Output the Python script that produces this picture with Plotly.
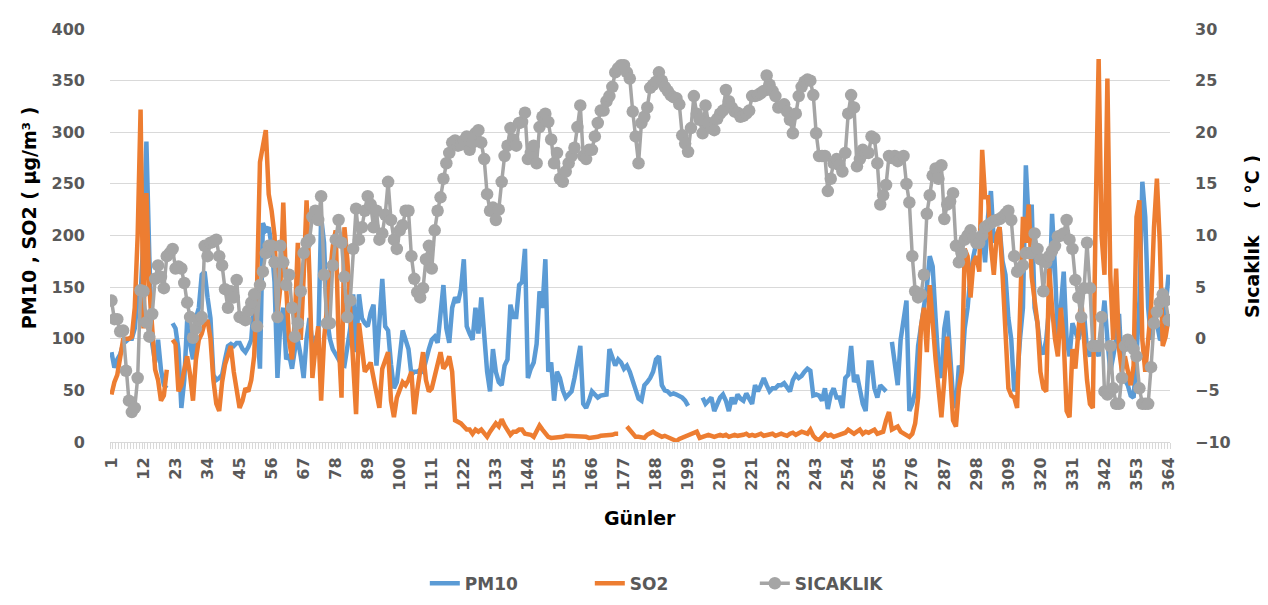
import plotly.graph_objects as go

# ---------------- data ----------------
days = list(range(1, 365))

tick_days = [1, 12, 23, 34, 45, 56, 67, 78, 89, 100, 111, 122, 133, 144, 155, 166,
             177, 188, 199, 210, 221, 232, 243, 254, 265, 276, 287, 298, 309, 320,
             331, 342, 353, 364]

pm10 = [
    87, 72, 80, 85, 95, 98, 100, 100, 110, 140,
    140, 200, 291, 180, 95, 77, 99, 70, 55, 52,
    None, 115, 110, 90, 33, 60, 118, 95, 80, 120,
    130, 162, 165, 140, 120, 65, 60, 62, 65, 80,
    93, 95, 93, 96, 96, 90, 87, 92, 99, 137,
    110, 71, 212, 205, 208, 190, 155, 62, 115, 130,
    80, 85, 71, 90, 99, 83, 62, 100, 120, 95,
    100, 96, 218, 193, 120, 100, 90, 85, 80, 75,
    74, 95, 110, 143, 87, 143, 120, 115, 112, 125,
    133, 74, 120, 158, 112, 108, 75, 52, 58, 80,
    108, 99, 90, 65, 68, 68, 70, 68, 80, 90,
    99, 102, 96, 120, 152, 110, 96, 130, 140, 135,
    148, 177, 112, 105, 99, 130, 105, 140, 100, 68,
    49, 90, 68, 58, 55, 74, 80, 133, 121, 121,
    152, 155, 187, 62, 71, 77, 95, 146, 130, 177,
    68, 77, 40, 68, 62, 50, 43, 46, 49, 62,
    75, 93, 37, 33, 40, 49, 46, 43, 45, 46,
    46, 90, 80, 74, 80, 77, 71, 74, 68, 58,
    50, 42, 40, 55, 58, 62, 68, 80, 83, 55,
    50, 49, 46, 47, 46, 45, 43, 40, 35, None,
    None, None, None, 43, 37, 40, 43, 30, 38, 43,
    46, 40, 30, 43, 37, 46, 42, 40, 47, 42,
    37, 55, 49, 55, 62, 55, 49, 52, 52, 55,
    55, 57, 52, 49, 60, 65, 62, 64, 68, 71,
    69, 45, 46, 45, 40, 52, 32, 46, 52, 43,
    43, 33, 62, 65, 93, 58, 65, 50, 37, 30,
    77, 77, 52, 43, 55, 52, 49, None, 97, 75,
    55, 99, 120, 137, 30, 37, 49, 93, 112, 130,
    150, 180, 170, 120, 75, 62, 110, 127, 87, 43,
    33, 74, 68, 110, 130, 162, 180, 193, 200, 205,
    174, 218, 243, 193, 200, 208, 175, 162, 120, 99,
    49, 60, 100, 130, 268, 212, 230, 130, 115, 90,
    85, 99, 130, 221, 168, 99, 130, 165, 99, 83,
    115, 105, 99, 110, 124, 90, 83, 99, 90, 83,
    110, 137, 99, 68, 83, 100, 124, 68, 60, 55,
    45, 43, 83, 137, 252, 218, 130, 99, 130, 112,
    100, 99, 130, 162,
]

so2 = [
    46, 58, 65, 80, 99, 100, 100, 102, 130, 200,
    322, 110, 241, 150, 110, 70, 60, 40, 45, 70,
    None, 99, 95, 49, 55, 70, 83, 65, 40, 80,
    99, 105, 115, 118, 100, 60, 37, 30, 58, 75,
    85, 93, 68, 50, 33, 40, 52, 49, 60, 83,
    150, 271, 285, 302, 240, 224, 200, 124, 150, 232,
    150, 99, 80, 120, 193, 99, 160, 234, 162, 62,
    90, 112, 40, 99, 130, 162, 190, 205, 100, 43,
    208, 177, 130, 80, 27, 115, 90, 68, 72, 77,
    62, 45, 33, 71, 80, 87, 40, 24, 43, 50,
    58, 55, 60, 68, 27, 50, 68, 87, 60, 49,
    52, 65, 74, 87, 71, 75, 83, 68, 21, 20,
    18, 15, 12, 12, 8, 12, 10, 12, 8, 5,
    10, 15, 18, 15, 22, 16, 12, 7, 10, 10,
    12, 12, 8, 8, 7, 5, 10, 16, 12, 8,
    5, 4, 4, 5, 5, 5, 6, 6, 6, 5,
    5, 5, 5, 5, 4, 4, 5, 5, 6, 6,
    6, 7, 7, 8, 8, None, None, 15, 12, 8,
    5, 5, 4, 4, 7, 8, 10, 8, 6, 5,
    6, 5, 4, 2, 1, 3, 4, 5, 6, 7,
    8, 10, 4, 5, 6, 7, 6, 5, 6, 7,
    6, 7, 5, 6, 7, 6, 6, 7, 8, 6,
    7, 6, 7, 8, 6, 7, 7, 8, 6, 7,
    8, 7, 6, 8, 9, 7, 8, 10, 9, 8,
    12, 6, 3, 2, 5, 8, 6, 7, 5, 6,
    7, 8, 9, 12, 10, 8, 10, 12, 8, 10,
    9, 10, 12, 8, 9, 10, 21, 29, 12, 14,
    15, 10, 8, 6, 5, 8, 18, 43, 112, 130,
    87, 152, 112, 80, 52, 24, 60, 102, 68, 21,
    15, 52, 68, 187, 180, 140, 174, 180, 165, 283,
    237, 237, 190, 162, 200, 208, 162, 99, 52, 45,
    43, 33, 115, 218, 193, 230, 160, 137, 115, 68,
    52, 49, 168, 130, 100, 83, 130, 99, 30, 24,
    90, 71, 100, 140, 99, 60, 37, 33, 224, 371,
    200, 162, 352, 162, 99, 168, 90, 68, 83, 68,
    55, 74, 218, 234, 99, 68, 100, 130, 208, 255,
    193, 93, 102, 120,
]

sicaklik = [
    3.7, 1.9, 1.9, 0.7, 0.8, -3.1, -6.0, -7.1, -6.7, -3.8,
    4.7, 4.6, 1.6, 0.2, 2.4, 5.8, 7.1, 6.0, 4.9, 8.0,
    8.3, 8.7, 6.8, 7.0, 6.8, 5.4, 3.5, 2.1, 0.1, 1.0,
    1.8, 2.1, 9.0, 8.0, 9.3, 9.4, 9.6, 8.0, 7.1, 4.8,
    3.0, 4.6, 4.0, 5.7, 2.1, 2.0, 1.8, 2.7, 3.5, 4.3,
    1.2, 5.2, 6.5, 8.3, 9.0, 9.0, 7.4, 2.1, 9.0, 7.4,
    5.2, 6.2, 3.0, 0.2, 1.5, 4.6, 8.3, 9.3, 9.6, 11.8,
    12.4, 11.5, 13.8, 6.2, 1.5, 1.5, 7.1, 9.6, 11.5, 9.3,
    6.0, 2.1, 3.7, 8.7, 12.6, 9.6, 10.8, 12.4, 13.8, 13.0,
    10.8, 12.4, 9.6, 10.2, 12.0, 15.2, 11.5, 9.6, 8.7, 10.5,
    11.0, 12.4, 12.4, 8.0, 5.8, 4.5, 4.0, 4.9, 7.7, 9.0,
    6.8, 10.5, 12.4, 13.7, 15.5, 17.0, 18.0, 19.0, 19.2, 18.7,
    18.8, 19.2, 19.6, 18.3, 19.0, 19.9, 20.2, 19.0, 17.4, 14.0,
    12.4, 12.7, 11.5, 12.5, 15.2, 17.7, 18.7, 20.4, 19.3, 18.7,
    20.9, 21.0, 21.9, 17.4, 18.0, 18.7, 17.0, 20.5, 21.5, 21.8,
    21.0, 19.3, 17.0, 18.0, 15.5, 15.2, 16.2, 17.0, 17.7, 18.5,
    20.5, 22.6, 17.7, 17.4, 18.3, 18.3, 19.6, 20.9, 22.1, 22.1,
    23.0, 23.5, 24.4, 25.8, 26.2, 26.5, 26.5, 25.8, 25.2, 22.0,
    19.6, 17.0, 20.9, 21.5, 22.4, 24.3, 24.6, 24.9, 25.8, 25.0,
    24.4, 24.0, 23.6, 23.4, 23.3, 22.7, 19.7, 18.9, 18.1, 20.4,
    23.5, 21.8, 21.2, 19.9, 22.6, 20.9, 20.4, 20.2, 21.3, 21.8,
    22.1, 24.1, 23.0, 22.4, 22.0, 21.9, 21.5, 21.6, 21.8, 22.1,
    23.5, 23.5, 23.6, 23.8, 24.0, 25.5, 24.6, 24.0, 23.5, 22.4,
    22.5, 22.7, 22.0, 21.2, 19.9, 21.8, 23.5, 24.4, 24.9, 25.1,
    25.0, 23.6, 19.9, 17.7, 17.7, 17.7, 14.3, 15.5, 17.0, 17.4,
    16.8, 16.2, 18.0, 21.8, 23.6, 22.4, 16.7, 17.4, 18.3, 18.0,
    18.0, 19.6, 19.4, 17.0, 13.0, 13.9, 14.9, 17.7, 17.5, 17.7,
    17.2, 17.5, 17.7, 15.0, 13.2, 8.0, 4.6, 4.0, 4.3, 6.2,
    12.1, 13.9, 15.8, 16.5, 15.5, 16.8, 11.6, 13.0, 13.3, 14.1,
    9.0, 7.4, 8.3, 9.6, 10.0, 10.5, 9.8, 9.3, 9.3, 10.0,
    10.8, 11.0, 11.2, 11.4, 11.5, 11.6, 11.8, 12.1, 12.4, 11.5,
    8.0, 6.5, 6.8, 7.1, 8.3, 8.3, 8.3, 10.2, 8.7, 7.7,
    4.6, 7.4, 8.0, 8.5, 9.0, 9.9, 10.0, 10.2, 11.5, 9.6,
    8.7, 5.7, 4.0, 2.1, 4.9, 9.3, 4.9, -0.7, -0.7, -0.7,
    2.1, -5.1, -5.4, -0.7, -4.8, -6.3, -6.3, -3.8, -0.7, -0.1,
    -0.5, -1.0, -1.7, -4.8, -6.3, -6.3, -6.3, -2.75, 1.5, 2.6,
    3.5, 4.3, 3.7, 1.8,
]

# ---------------- figure ----------------
FONT = "DejaVu Sans"
TICK_FONT = dict(family=FONT, size=16, color="#595959", weight="bold")
GRID = "#d9d9d9"

fig = go.Figure()
fig.add_trace(go.Scatter(x=days, y=pm10, name="PM10", mode="lines",
                         line=dict(color="#5B9BD5", width=4.5), connectgaps=False))
fig.add_trace(go.Scatter(x=days, y=so2, name="SO2", mode="lines",
                         line=dict(color="#ED7D31", width=4.5), connectgaps=False))
fig.add_trace(go.Scatter(x=days, y=sicaklik, name="SICAKLIK", mode="lines+markers",
                         line=dict(color="#A5A5A5", width=3.5),
                         marker=dict(size=12.5, color="#A5A5A5"), yaxis="y2"))

fig.update_layout(
    width=1268, height=605,
    margin=dict(l=102, r=106, t=13, b=166),
    paper_bgcolor="white", plot_bgcolor="white",
    showlegend=True,
    legend=dict(orientation="h", x=0.297, xanchor="left", y=-0.343, yanchor="middle",
                entrywidth=120, entrywidthmode="pixels",
                font=dict(family=FONT, size=17, color="#595959", weight="bold"),
                bgcolor="rgba(0,0,0,0)"),
    xaxis=dict(range=[0.5, 364.5], tickmode="array", tickvals=tick_days,
               ticktext=[str(t) for t in tick_days], tickangle=-90,
               tickfont=TICK_FONT, showgrid=False, zeroline=False,
               showline=True, linecolor=GRID, linewidth=1, ticks="",
               ticklabelstandoff=8,
               minor=dict(ticks="outside", tickmode="linear", tick0=0.5, dtick=1,
                          ticklen=6, tickcolor=GRID, tickwidth=1, showgrid=False)),
    yaxis=dict(range=[0, 400], tickmode="linear", tick0=0, dtick=50,
               showgrid=True, gridcolor=GRID, gridwidth=1, zeroline=False,
               tickfont=TICK_FONT, ticks="", ticklabelstandoff=24),
    yaxis2=dict(range=[-10, 30], tickmode="linear", tick0=-10, dtick=5,
                overlaying="y", side="right", showgrid=False, zeroline=False,
                tickfont=TICK_FONT, ticks="", ticklabelstandoff=24),
    annotations=[
        dict(text="Günler", xref="paper", yref="paper", x=0.5, y=-0.183,
             showarrow=False, xanchor="center", yanchor="middle",
             font=dict(family=FONT, size=19, color="black", weight="bold")),
        dict(text="PM10 , SO2 ( µg/m³ )", xref="paper", yref="paper",
             x=-0.0764, y=0.542, textangle=-90, showarrow=False,
             xanchor="center", yanchor="middle",
             font=dict(family=FONT, size=19, color="black", weight="bold")),
        dict(text="Sıcaklık\u00a0\u00a0\u00a0\u00a0( °C )", xref="paper", yref="paper",
             x=1.078, y=0.498, textangle=-90, showarrow=False,
             xanchor="center", yanchor="middle",
             font=dict(family=FONT, size=19, color="black", weight="bold")),
    ],
)

fig.write_html("out.html")
